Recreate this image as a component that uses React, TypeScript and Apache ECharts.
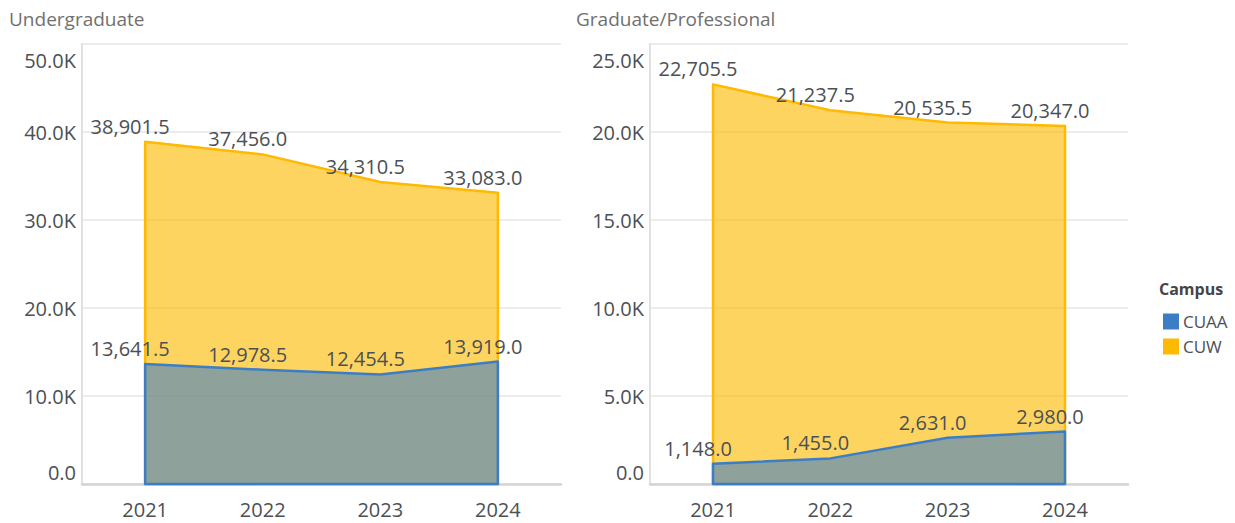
import React, { useEffect, useRef } from "react";
import * as echarts from "echarts";

const years = [2021, 2022, 2023, 2024];
const ugCUW = [38901.5, 37456.0, 34310.5, 33083.0];
const ugCUAA = [13641.5, 12978.5, 12454.5, 13919.0];
const grCUW = [22705.5, 21237.5, 20535.5, 20347.0];
const grCUAA = [1148.0, 1455.0, 2631.0, 2980.0];
const panelTitles = ["Undergraduate", "Graduate/Professional"];
const legendTitle = "Campus";
const campusNames = ["CUAA", "CUW"];

const FONT = "'Open Sans', 'Noto Sans', sans-serif";
const BLUE = "#3C7EC6";
const YELLOW = "#FFB900";
const BLUE_FILL = "rgba(60,126,198,0.58)";
const YELLOW_FILL = "rgba(253,185,0,0.62)";
const TEXT = "#4b5055";

const fmtVal = (v: number) =>
  v.toLocaleString("en-US", { minimumFractionDigits: 1, maximumFractionDigits: 1 });

function areaSeries(name: string, vals: number[], idx: number, stroke: string, fill: string, z: number) {
  return {
    type: "custom",
    name,
    xAxisIndex: idx,
    yAxisIndex: idx,
    z,
    silent: true,
    itemStyle: { color: stroke },
    data: years.map((y, i) => [y, vals[i]]),
    renderItem: (params: any, api: any) => {
      if (params.dataIndex !== 0) return { type: "group", children: [] };
      const pts = years.map((y, i) => api.coord([y, vals[i]]));
      const b1 = api.coord([years[years.length - 1], 0]);
      const b0 = api.coord([years[0], 0]);
      return {
        type: "polygon",
        shape: { points: [...pts, b1, b0] },
        style: { fill, stroke, lineWidth: 2.5, lineJoin: "round" },
      };
    },
  };
}

function labelSeries(name: string, vals: number[], idx: number) {
  return {
    type: "scatter",
    name: name + " labels",
    xAxisIndex: idx,
    yAxisIndex: idx,
    z: 10,
    silent: true,
    symbolSize: 1,
    itemStyle: { color: "rgba(0,0,0,0)", opacity: 1 },
    data: years.map((y, i) => [y, vals[i]]),
    label: {
      show: true,
      position: "top",
      distance: 5,
      offset: [-15, 0],
      formatter: (p: any) => fmtVal(p.value[1]),
      fontFamily: FONT,
      fontSize: 20,
      color: TEXT,
      opacity: 1,
    },
  };
}

function yAxis(idx: number, max: number, interval: number) {
  const base = { fontFamily: FONT, fontSize: 20, color: TEXT };
  return {
    type: "value",
    gridIndex: idx,
    min: 0,
    max,
    interval,
    axisLine: { show: true, lineStyle: { color: "#d6d6d6", width: 1.5 } },
    axisTick: { show: false },
    splitLine: { lineStyle: { color: "#e6e6e6", width: 1.5 } },
    axisLabel: {
      margin: 6,
      formatter: (v: number) => {
        const s = v === 0 ? "0.0" : (v / 1000).toFixed(1) + "K";
        if (v === max) return "{t|" + s + "}";
        if (v === 0) return "{b|" + s + "}";
        return "{n|" + s + "}";
      },
      rich: {
        t: { ...base, padding: [32, 0, 0, 0] },
        b: { ...base, padding: [0, 0, 24, 0] },
        n: { ...base },
      },
    },
  };
}

function xAxis(idx: number) {
  return {
    type: "value",
    gridIndex: idx,
    min: 2020.463,
    max: 2024.537,
    axisLine: { show: true, lineStyle: { color: "#d4d4d4", width: 2.5 } },
    axisTick: { show: false },
    splitLine: { show: false },
    axisLabel: {
      customValues: years,
      formatter: (v: number) => String(v),
      margin: 15,
      lineHeight: 20,
      fontFamily: FONT,
      fontSize: 20,
      color: TEXT,
    },
  };
}

export default function App() {
  const ref = useRef<HTMLDivElement>(null);
  useEffect(() => {
    if (!ref.current) return;
    const chart = echarts.init(ref.current, undefined, { renderer: "svg" });
    chart.setOption({
      animation: false,
      backgroundColor: "#ffffff",
      textStyle: { fontFamily: FONT },
      title: [
        { text: panelTitles[0], left: 9, top: 9, padding: 0, textStyle: { fontFamily: FONT, fontSize: 19, fontWeight: "normal", color: "#707070" } },
        { text: panelTitles[1], left: 576, top: 9, padding: 0, textStyle: { fontFamily: FONT, fontSize: 19, fontWeight: "normal", color: "#707070" } },
        { text: legendTitle, left: 1159, top: 281, padding: 0, textStyle: { fontFamily: FONT, fontSize: 16, fontWeight: "bold", color: "#454545" } },
      ],
      legend: {
        orient: "vertical",
        left: 1163,
        top: 313,
        padding: 0,
        icon: "rect",
        itemWidth: 16,
        itemHeight: 16,
        itemGap: 8,
        textStyle: { fontFamily: FONT, fontSize: 17, color: TEXT, padding: [0, 0, 0, -1] },
        data: [
          { name: campusNames[0], itemStyle: { color: BLUE, opacity: 1 } },
          { name: campusNames[1], itemStyle: { color: YELLOW, opacity: 1 } },
        ],
        selectedMode: false,
      },
      grid: [
        { left: 82, top: 44, width: 479, height: 440, containLabel: false },
        { left: 650, top: 44, width: 478, height: 440, containLabel: false },
      ],
      xAxis: [xAxis(0), xAxis(1)],
      yAxis: [yAxis(0, 50000, 10000), yAxis(1, 25000, 5000)],
      series: [
        areaSeries(campusNames[1], ugCUW, 0, YELLOW, YELLOW_FILL, 2),
        areaSeries(campusNames[0], ugCUAA, 0, BLUE, BLUE_FILL, 3),
        areaSeries(campusNames[1], grCUW, 1, YELLOW, YELLOW_FILL, 2),
        areaSeries(campusNames[0], grCUAA, 1, BLUE, BLUE_FILL, 3),
        labelSeries("CUW", ugCUW, 0),
        labelSeries("CUAA", ugCUAA, 0),
        labelSeries("CUW", grCUW, 1),
        labelSeries("CUAA", grCUAA, 1),
      ],
    });
    return () => chart.dispose();
  }, []);
  return (
    <div
      ref={ref}
      style={{ position: "fixed", left: 0, top: 0, width: 1235, height: 523, background: "#fff" }}
    />
  );
}
